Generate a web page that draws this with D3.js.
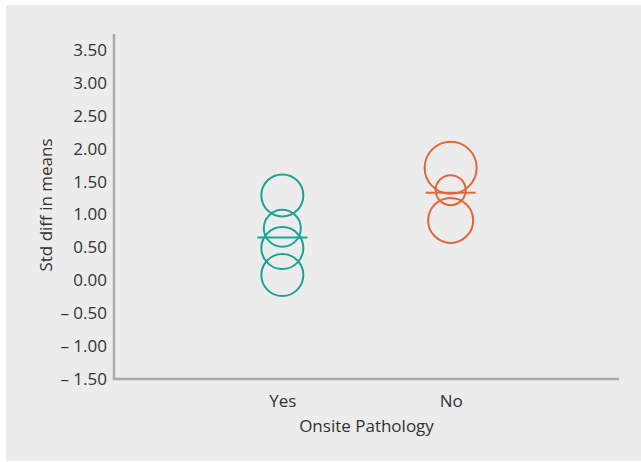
<!DOCTYPE html>
<html><head><meta charset="utf-8">
<script src="https://cdn.jsdelivr.net/npm/d3@7"></script>
<style>
html,body{margin:0;padding:0;background:#fff;}
svg{display:block;}
text{font-family:"Open Sans",sans-serif;fill:#333;}
</style></head>
<body>
<svg id="chart" width="641" height="462"></svg>
<script>
const categories = ["Yes", "No"];
const yesValues = [1.29, 0.79, 0.49, 0.08];
const yesWeights = [21, 18.5, 21, 21];
const noValues = [1.71, 1.37, 0.91];
const noWeights = [26, 15, 22.5];
const means = [0.65, 1.33];
const yTicks = [-1.5, -1.0, -0.5, 0, 0.5, 1.0, 1.5, 2.0, 2.5, 3.0, 3.5];
const colors = ["#1aa596", "#e4663c"];

const svg = d3.select("#chart");
svg.append("rect").attr("x", 6).attr("y", 5).attr("width", 635).attr("height", 456).attr("fill", "#ebeceb");

const mLeft = 114, mRight = 619, mTop = 50, mBottom = 379;
const y = d3.scaleLinear().domain([-1.5, 3.5]).range([mBottom, mTop]);
const x = d3.scalePoint().domain(categories).range([mLeft, mRight]).padding(1);
const r = d3.scaleLinear().domain([0, 26]).range([0, 26]);

const fmt = v => v < 0 ? "\u2013 " + d3.format(".2f")(-v) : d3.format(".2f")(v);

// y axis
const yAxis = svg.append("g").attr("transform", `translate(${mLeft},0)`)
  .call(d3.axisLeft(y).tickValues(yTicks).tickFormat(fmt).tickSize(0).tickPadding(7));
yAxis.select(".domain").remove();
yAxis.selectAll("text").style("font-size", "17px").attr("fill", "#333");
svg.append("line").attr("x1", mLeft).attr("x2", mLeft).attr("y1", 34).attr("y2", mBottom)
  .attr("stroke", "#a9abad").attr("stroke-width", 2.5);

// x axis
const xAxis = svg.append("g").attr("transform", `translate(0,${mBottom})`)
  .call(d3.axisBottom(x).tickSize(0).tickPadding(16));
xAxis.select(".domain").remove();
xAxis.selectAll("text").style("font-size", "17px").attr("fill", "#333");
svg.append("line").attr("x1", mLeft - 1.25).attr("x2", mRight).attr("y1", mBottom).attr("y2", mBottom)
  .attr("stroke", "#a9abad").attr("stroke-width", 2.5);

// axis titles
svg.append("text").attr("x", x("Yes") + (x("No") - x("Yes")) / 2).attr("y", 432)
  .attr("text-anchor", "middle").style("font-size", "17px").text("Onsite Pathology");
svg.append("text").attr("transform", `translate(52,205) rotate(-90)`)
  .attr("text-anchor", "middle").style("font-size", "17px").text("Std diff in means");

// circles
const groups = [
  {cat: "Yes", values: yesValues, weights: yesWeights},
  {cat: "No", values: noValues, weights: noWeights}
];
groups.forEach((g, gi) => {
  svg.append("g").selectAll("circle").data(g.values).join("circle")
    .attr("cx", x(g.cat)).attr("cy", d => y(d)).attr("r", (d, i) => r(g.weights[i]))
    .attr("fill", "none").attr("stroke", colors[gi]).attr("stroke-width", 2);
  svg.append("line").attr("x1", x(g.cat) - 25).attr("x2", x(g.cat) + 25)
    .attr("y1", y(means[gi])).attr("y2", y(means[gi]))
    .attr("stroke", colors[gi]).attr("stroke-width", 2);
});
</script>
</body></html>
